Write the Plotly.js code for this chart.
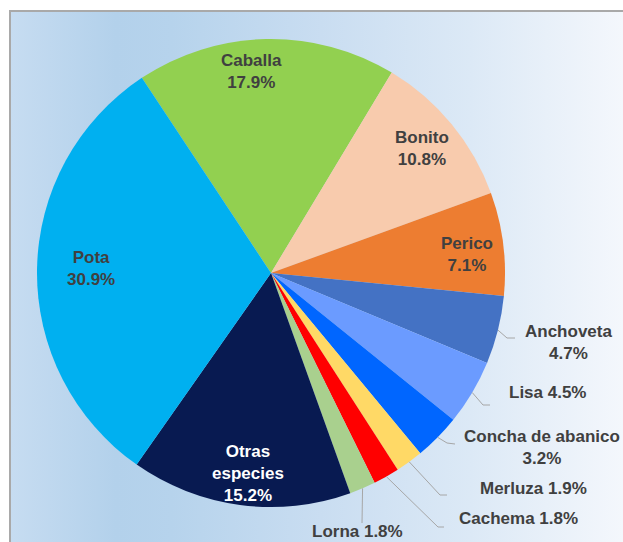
<!DOCTYPE html>
<html>
<head>
<meta charset="utf-8">
<script src="https://cdn.plot.ly/plotly-3.0.1.min.js"></script>
<style>
  html, body { margin: 0; padding: 0; background: #ffffff; }
  #wrap { position: relative; width: 623px; height: 542px; overflow: hidden; background: #ffffff; }
  #bg {
    position: absolute; left: 9px; top: 10px; width: 640px; height: 560px;
    border-left: 2px solid #a9a9a9; border-top: 2px solid #a9a9a9;
    background: linear-gradient(to right, #c6dcf1 0px, #b3d1eb 105px, #b6d3ec 160px, #c9ddf1 310px, #dce9f6 460px, #f4f7fc 612px, #f4f7fc 640px);
  }
  #chart { position: absolute; left: 0; top: 0; width: 623px; height: 542px; }
</style>
</head>
<body>
<div id="wrap">
  <div id="bg"></div>
  <div id="chart"></div>
</div>
<script>
// ---- data ----
const species = ["Caballa", "Bonito", "Perico", "Anchoveta", "Lisa", "Concha de abanico",
                 "Merluza", "Cachema", "Lorna", "Otras especies", "Pota"];
const shares = [17.9, 10.8, 7.1, 4.7, 4.5, 3.2, 1.9, 1.8, 1.8, 15.2, 30.9];
const labelText = ["Caballa<br>17.9%", "Bonito<br>10.8%", "Perico<br>7.1%", "Anchoveta<br>4.7%",
                   "Lisa 4.5%", "Concha de abanico<br>3.2%", "Merluza 1.9%", "Cachema 1.8%",
                   "Lorna 1.8%", "Otras<br>especies<br>15.2%", "Pota<br>30.9%"];

// ---- style / layout ----
const colors = ["#92d050", "#f8cbad", "#ed7d31", "#4472c4", "#6b9bff", "#0066ff",
                "#ffd966", "#ff0000", "#a9d08e", "#081a51", "#00b0f0"];
const W = 623, H = 542;
const CX = 271, CY = 273, R = 234;       // pie centre / radius in pixels
const ROT = -33.5;                        // start angle (deg, clockwise from 12 o'clock)
// label centre positions (pixels)
const labelPos = [[251, 72], [422, 148], [467, 254], [568, 342], [548, 392], [542, 447],
                  [533, 488], [518, 518], [357, 531], [248, 473], [91, 268]];
const labelColor = ["#404040", "#404040", "#404040", "#404040", "#404040", "#404040",
                    "#404040", "#404040", "#404040", "#ffffff", "#404040"];
// leader line elbow and end points (pixels)
const leaderPts = [null, null, null,
                   [[507, 338], [515, 338]],
                   [[483, 405], [490, 405]],
                   [[447, 443], [455, 444]],
                   [[440, 495], [447, 495]],
                   [[438, 527], [444, 527]],
                   [[362, 523], [362, 523]],
                   null, null];

const px = x => x / W;
const py = y => 1 - y / H;

const total = shares.reduce((a, b) => a + b, 0);
let acc = 0;
const shapes = [];
const annotations = [];
shares.forEach((v, i) => {
  const mid = ROT + (acc + v / 2) / total * 360;
  acc += v;
  const a = mid * Math.PI / 180;
  const ex = CX + R * Math.sin(a), ey = CY - R * Math.cos(a);
  if (leaderPts[i]) {
    const [e1, e2] = leaderPts[i];
    shapes.push({
      type: "path", xref: "paper", yref: "paper",
      path: `M ${px(ex)} ${py(ey)} L ${px(e1[0])} ${py(e1[1])} L ${px(e2[0])} ${py(e2[1])}`,
      line: { color: "#a6a6a6", width: 1 }
    });
  }
  annotations.push({
    xref: "paper", yref: "paper",
    x: px(labelPos[i][0]), y: py(labelPos[i][1]),
    xanchor: "center", yanchor: "middle",
    text: "<b>" + labelText[i] + "</b>",
    showarrow: false, align: "center",
    font: { family: "Liberation Sans, Arial, sans-serif", size: 17, color: labelColor[i] }
  });
});

const trace = {
  type: "pie",
  labels: species,
  values: shares,
  sort: false,
  direction: "clockwise",
  rotation: ROT,
  marker: { colors: colors, line: { width: 0 } },
  textinfo: "none",
  hoverinfo: "label+percent",
  showlegend: false,
  domain: { x: [px(CX - R), px(CX + R)], y: [py(CY + R), py(CY - R)] }
};

const layout = {
  width: W, height: H,
  margin: { l: 0, r: 0, t: 0, b: 0 },
  paper_bgcolor: "rgba(0,0,0,0)",
  plot_bgcolor: "rgba(0,0,0,0)",
  showlegend: false,
  shapes: shapes,
  annotations: annotations
};

Plotly.newPlot("chart", [trace], layout, { displayModeBar: false, staticPlot: true });
</script>
</body>
</html>
